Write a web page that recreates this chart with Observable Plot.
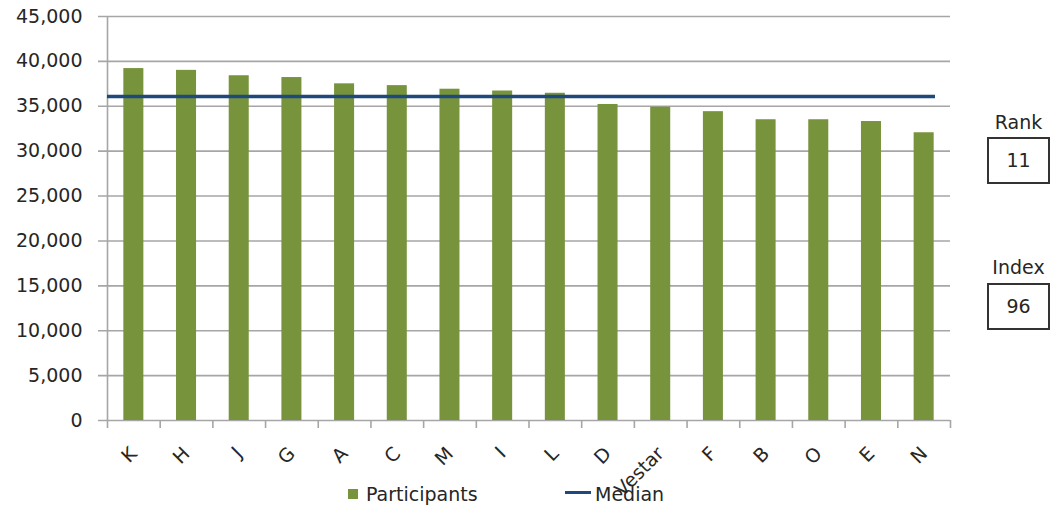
<!DOCTYPE html>
<html><head><meta charset="utf-8">
<script src="https://cdn.jsdelivr.net/npm/d3@7"></script>
<script src="https://cdn.jsdelivr.net/npm/@observablehq/plot@0.6"></script>
<style>
body{margin:0;background:#fff;font-family:"DejaVu Sans",Verdana,sans-serif;color:#262626;}
#wrap{position:relative;width:1053px;height:508px;overflow:hidden;background:#fff}
#chart{position:absolute;left:0;top:0}
.abs{position:absolute;white-space:nowrap;font-size:19px;line-height:19px}
.box{position:absolute;box-sizing:border-box;border:2px solid #333;text-align:center;font-size:19px}
</style></head><body><div id="wrap"><div id="chart"></div></div>
<script>
const categories = ["K","H","J","G","A","C","M","I","L","D","Vestar","F","B","O","E","N"];
const participants = [39200,39000,38400,38200,37500,37300,36900,36700,36450,35200,34900,34400,33500,33500,33300,32050];
const medianValue = 36100;
const yTicks = [0,5000,10000,15000,20000,25000,30000,35000,40000,45000];
const seriesNames = ["Participants","Median"];
const rankLabel = "Rank", rankValue = 11;
const indexLabel = "Index", indexValue = 96;

const W = 1053, H = 508, mL = 107, mR = 103, mT = 16, mB = 88;
const bw = (W - mL - mR) / categories.length;
const grid = "#a6a6a6";
const green = "#77933C";
const navy = "#1F497D";
const data = categories.map((c, i) => ({cat: c, value: participants[i]}));
const tickLen = 8 * 45000 / (H - mT - mB);

const plot = Plot.plot({
  width: W, height: H,
  marginLeft: mL, marginRight: mR, marginTop: mT, marginBottom: mB,
  style: {fontFamily: '"DejaVu Sans",Verdana,sans-serif', fontSize: "19px", color: "#262626", background: "transparent"},
  x: {type: "band", domain: categories, paddingInner: 0.62, paddingOuter: 0.31, round: false, label: null},
  y: {domain: [0, 45000], label: null},
  marks: [
    Plot.ruleY(yTicks, {stroke: grid, strokeWidth: 1.6, insetLeft: -9}),
    Plot.ruleX(["K"], {x: d => d, y1: -tickLen, y2: 45000, dx: -bw / 2, stroke: grid, strokeWidth: 1.6}),
    Plot.ruleX(categories, {x: d => d, y1: -tickLen, y2: 0, dx: bw / 2, stroke: grid, strokeWidth: 1.6}),
    Plot.barY(data, {x: "cat", y: "value", fill: green}),
    Plot.ruleY([medianValue], {stroke: navy, strokeWidth: 3.5, insetRight: 15}),
    Plot.axisY({ticks: yTicks, tickSize: 0, tickPadding: 25, tickFormat: d3.format(","), label: null}),
    Plot.axisX({tickSize: 0, tickRotate: -45, tickPadding: 30, label: null})
  ]
});
document.getElementById("chart").appendChild(plot);

const wrap = document.getElementById("wrap");
function add(html, cls, css) {
  const d = document.createElement("div");
  d.className = cls; d.textContent = html; Object.assign(d.style, css); wrap.appendChild(d); return d;
}
// legend
const sq = document.createElement("div");
Object.assign(sq.style, {position: "absolute", left: "348px", top: "489px", width: "10px", height: "10px", background: green});
wrap.appendChild(sq);
add(seriesNames[0], "abs", {left: "366px", top: "485px"});
const ln = document.createElement("div");
Object.assign(ln.style, {position: "absolute", left: "565px", top: "491px", width: "26px", height: "3px", background: navy});
wrap.appendChild(ln);
add(seriesNames[1], "abs", {left: "595px", top: "485px"});
// rank / index boxes
add(rankLabel, "abs", {left: "987px", width: "63px", textAlign: "center", top: "113px"});
add(String(rankValue), "box", {left: "987px", top: "137px", width: "63px", height: "47px", lineHeight: "43px"});
add(indexLabel, "abs", {left: "987px", width: "63px", textAlign: "center", top: "258px"});
add(String(indexValue), "box", {left: "987px", top: "283px", width: "63px", height: "47px", lineHeight: "43px"});
</script>
</body></html>
